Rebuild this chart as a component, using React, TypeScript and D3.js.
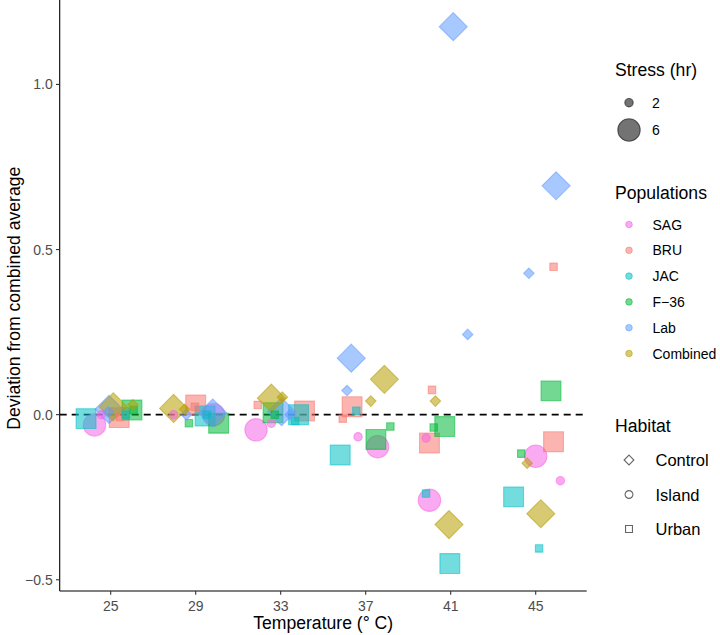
import React from "react";
import * as d3 from "d3";

const temperatures = ["25", "29", "33", "37", "41", "45"];
const populations = ["SAG", "BRU", "JAC", "F−36", "Lab", "Combined"];
const popColors = ["#F564E3", "#F8766D", "#00BFC4", "#00BA38", "#619CFF", "#B79F00"];
const habitats = ["Control", "Island", "Urban"];
const popHabitat = ["Island", "Urban", "Urban", "Urban", "Control", "Control"];
const stressLevels = [2, 6];
const yTicks = [-0.5, 0, 0.5, 1.0];

// values per population (index follows temperatures), stress 6 hr and 2 hr
const sagStress6 = [-0.031, 0.0, -0.046, -0.097, -0.259, -0.126];
const sagJitter6 = [-0.19, 0.21, -0.29, 0.14, -0.25, 0.0];
const sagStress2 = [0.0, 0.0, -0.026, -0.067, -0.071, -0.2];
const sagJitter2 = [-0.11, -0.26, -0.11, -0.09, -0.29, 0.29];

const bruStress6 = [-0.009, 0.029, 0.011, 0.024, -0.086, -0.082];
const bruJitter6 = [0.1, 0.0, 0.28, -0.16, -0.25, 0.21];
const bruStress2 = [-0.007, 0.024, 0.029, -0.012, 0.075, 0.448];
const bruJitter2 = [0.11, -0.01, -0.27, -0.27, -0.22, 0.21];

const jacStress6 = [-0.012, -0.004, 0.0, -0.122, -0.451, -0.249];
const jacJitter6 = [-0.29, 0.11, 0.21, -0.3, -0.01, -0.26];
const jacStress2 = [0.0, 0.0, -0.019, 0.012, -0.239, -0.405];
const jacJitter2 = [0.18, 0.13, 0.17, -0.11, -0.29, 0.04];

const f36Stress6 = [0.014, -0.026, 0.006, -0.075, -0.036, 0.072];
const f36Jitter6 = [0.25, 0.27, -0.09, 0.12, -0.07, 0.18];
const f36Stress2 = [0.014, -0.026, 0.0, -0.036, -0.039, -0.118];
const f36Jitter2 = [0.27, -0.08, -0.07, 0.29, -0.2, -0.17];

const labStress6 = [0.016, 0.005, 0.009, 0.171, 1.175, 0.693];
const labJitter6 = [-0.02, 0.2, 0.01, -0.17, 0.03, 0.24];
const labStress2 = [0.008, 0.0, 0.0, 0.073, 0.243, 0.428];
const labJitter2 = [-0.03, -0.11, 0.11, -0.22, 0.2, -0.08];

const combStress6 = [0.024, 0.019, 0.05, 0.107, -0.333, -0.3];
const combJitter6 = [0.03, -0.26, -0.11, 0.22, -0.02, 0.06];
const combStress2 = [0.03, 0.016, 0.053, 0.041, 0.041, -0.147];
const combJitter2 = [0.26, -0.13, 0.02, 0.06, -0.18, -0.1];

const values6 = [sagStress6, bruStress6, jacStress6, f36Stress6, labStress6, combStress6];
const jitter6 = [sagJitter6, bruJitter6, jacJitter6, f36Jitter6, labJitter6, combJitter6];
const values2 = [sagStress2, bruStress2, jacStress2, f36Stress2, labStress2, combStress2];
const jitter2 = [sagJitter2, bruJitter2, jacJitter2, f36Jitter2, labJitter2, combJitter2];

type Pt = { pop: number; t: number; stress: number; v: number; j: number };

const points: Pt[] = [];
[6, 2].forEach((s) => {
  const vals = s === 6 ? values6 : values2;
  const jits = s === 6 ? jitter6 : jitter2;
  populations.forEach((_, p) => {
    temperatures.forEach((_, t) => {
      points.push({ pop: p, t, stress: s, v: vals[p][t], j: jits[p][t] });
    });
  });
});

const FONT = "'Liberation Sans', Arial, Helvetica, sans-serif";

function shapePath(habitat: string, r: number): string {
  if (habitat === "Island") {
    return d3.symbol(d3.symbolCircle, Math.PI * r * r)() as string;
  }
  if (habitat === "Urban") {
    const s = r * 1.772;
    return d3.symbol(d3.symbolSquare, s * s)() as string;
  }
  const h = r * 1.2533;
  return `M0,${-h}L${h},0L0,${h}L${-h},0Z`;
}

export default function App() {
  const left = 59.7;
  const right = 586.7;
  const top = 5.5;
  const bottom = 591;

  const x = d3.scalePoint<string>().domain(temperatures).range([left, right]).padding(0.6);
  const step = x.step();
  const y = d3.scaleLinear().domain([-0.534, 1.239]).range([bottom, top]);
  const rScale = d3.scaleLinear().domain([2, 6]).range([4.2, 11.2]);

  const legendX = 629;

  return (
    <svg width={720} height={635} style={{ position: "absolute", left: 0, top: 0, background: "#fff" }} fontFamily={FONT}>
      <rect width={720} height={635} fill="#fff" />
      {/* dashed zero line */}
      <line x1={left} x2={right} y1={y(0)} y2={y(0)} stroke="#000" strokeWidth={1.7} strokeDasharray="7,5" />
      {/* points */}
      {points.map((d, i) => {
        const cx = (x(temperatures[d.t]) as number) + d.j * step;
        const cy = y(d.v);
        const col = popColors[d.pop];
        return (
          <path
            key={i}
            d={shapePath(popHabitat[d.pop], rScale(d.stress))}
            transform={`translate(${cx},${cy})`}
            fill={col}
            fillOpacity={0.55}
            stroke={col}
            strokeOpacity={0.55}
            strokeWidth={1.1}
          />
        );
      })}
      {/* axes */}
      <line x1={left} x2={left} y1={0} y2={bottom} stroke="#000" strokeWidth={1.1} />
      <line x1={left} x2={right} y1={bottom} y2={bottom} stroke="#000" strokeWidth={1.1} />
      {yTicks.map((t) => (
        <g key={t}>
          <line x1={left - 3.7} x2={left} y1={y(t)} y2={y(t)} stroke="#333" strokeWidth={1.1} />
          <text x={left - 7} y={y(t)} textAnchor="end" dominantBaseline="central" fontSize={14} fill="#4D4D4D">
            {t < 0 ? "−" + Math.abs(t).toFixed(1) : t.toFixed(1)}
          </text>
        </g>
      ))}
      {temperatures.map((t) => (
        <g key={t}>
          <line x1={x(t)} x2={x(t)} y1={bottom} y2={bottom + 3.7} stroke="#333" strokeWidth={1.1} />
          <text x={x(t)} y={bottom + 14.5} textAnchor="middle" dominantBaseline="central" fontSize={14} fill="#4D4D4D">
            {t}
          </text>
        </g>
      ))}
      <text x={(left + right) / 2} y={623} textAnchor="middle" dominantBaseline="central" fontSize={17.6} fill="#000">
        Temperature (° C)
      </text>
      <text
        transform={`translate(14,${(top + bottom) / 2}) rotate(-90)`}
        textAnchor="middle"
        dominantBaseline="central"
        fontSize={17.6}
        fill="#000"
      >
        Deviation from combined average
      </text>

      {/* Legend: Stress */}
      <text x={615} y={70} dominantBaseline="central" fontSize={17.6}>Stress (hr)</text>
      {stressLevels.map((s, i) => (
        <g key={s}>
          <circle cx={legendX} cy={[102.7, 130][i]} r={rScale(s)} fill="#000" fillOpacity={0.55} stroke="#000" strokeOpacity={0.55} strokeWidth={1.1} />
          <text x={652} y={[102.7, 130][i]} dominantBaseline="central" fontSize={14}>{s}</text>
        </g>
      ))}

      {/* Legend: Populations */}
      <text x={615} y={193} dominantBaseline="central" fontSize={17.6}>Populations</text>
      {populations.map((p, i) => {
        const cy = 224.5 + i * 25.8;
        return (
          <g key={p}>
            <circle cx={legendX} cy={cy} r={3.3} fill={popColors[i]} fillOpacity={0.55} stroke={popColors[i]} strokeOpacity={0.55} strokeWidth={1} />
            <text x={652.5} y={cy} dominantBaseline="central" fontSize={14}>{p}</text>
          </g>
        );
      })}

      {/* Legend: Habitat */}
      <text x={615} y={426} dominantBaseline="central" fontSize={17.6}>Habitat</text>
      {habitats.map((h, i) => {
        const cy = 460 + i * 34.5;
        return (
          <g key={h}>
            <path d={shapePath(h, 3.9)} transform={`translate(${legendX},${cy})`} fill="none" stroke="#666" strokeWidth={1.1} />
            <text x={655.5} y={cy} dominantBaseline="central" fontSize={16.5}>{h}</text>
          </g>
        );
      })}
    </svg>
  );
}
